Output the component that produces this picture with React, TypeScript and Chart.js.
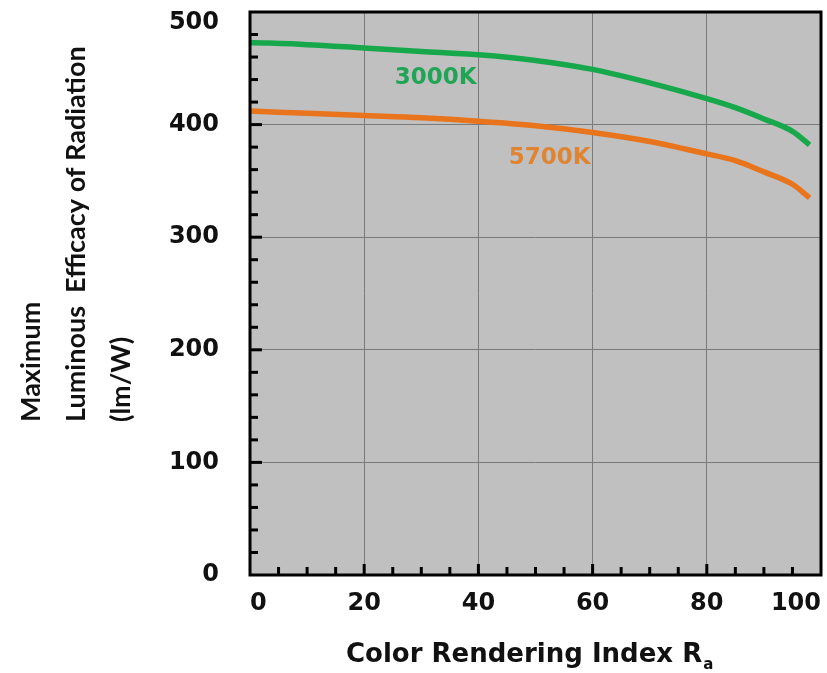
import React, { useEffect, useRef } from 'react';
import { Chart, registerables } from 'chart.js';

Chart.register(...registerables);

// Color Rendering Index values (x)
const criValues = [0, 10, 20, 30, 40, 50, 60, 70, 80, 85, 90, 95, 98];
// Maximum luminous efficacy of radiation (lm/W)
const efficacy3000K = [473, 471, 468, 465, 462, 457, 449, 437, 423, 415, 405, 394, 382];
const efficacy5700K = [412, 410, 408, 406, 403, 399, 393, 385, 374, 368, 358, 347, 335];
const seriesNames = ['3000K', '5700K'];
const labelAnchors = [
  { x: 32.5, y: 441 },
  { x: 52.5, y: 370 },
];
const xTickValues = [0, 20, 40, 60, 80, 100];
const yTickValues = [0, 100, 200, 300, 400, 500];
const yTitleLines = ['Maximum', 'Luminous  Efficacy of Radiation', '(lm/W)'];
const xTitleMain = 'Color Rendering Index R';
const xTitleSub = 'a';

const GREEN = '#17a84c';
const ORANGE = '#e8741c';
const GREEN_TEXT = '#22a456';
const ORANGE_TEXT = '#de8534';
const TICK_FONT = '"DejaVu Sans", sans-serif';

const decorPlugin = {
  id: 'decor',
  beforeDraw(chart: any) {
    const { ctx, chartArea: a } = chart;
    ctx.save();
    ctx.fillStyle = '#c0c0c0';
    ctx.fillRect(a.left, a.top, a.right - a.left, a.bottom - a.top);
    ctx.restore();
  },
  afterDraw(chart: any) {
    const { ctx, chartArea: a, scales } = chart;
    const xs = scales.x;
    const ys = scales.y;
    ctx.save();
    // inner tick marks
    ctx.strokeStyle = '#000';
    ctx.lineWidth = 3;
    ctx.lineCap = 'butt';
    for (let v = 5; v < 100; v += 5) {
      const px = xs.getPixelForValue(v);
      const len = v % 20 === 0 ? 11 : 8;
      ctx.beginPath();
      ctx.moveTo(px, a.bottom);
      ctx.lineTo(px, a.bottom - len);
      ctx.stroke();
    }
    for (let v = 20; v < 500; v += 20) {
      const py = ys.getPixelForValue(v);
      const len = v % 100 === 0 ? 12 : 8;
      ctx.beginPath();
      ctx.moveTo(a.left, py);
      ctx.lineTo(a.left + len, py);
      ctx.stroke();
    }
    // frame
    ctx.lineWidth = 3;
    ctx.strokeRect(a.left, a.top, a.right - a.left, a.bottom - a.top);

    // series labels
    ctx.font = 'bold 23px ' + TICK_FONT;
    ctx.textAlign = 'center';
    ctx.textBaseline = 'middle';
    const colors = [GREEN_TEXT, ORANGE_TEXT];
    seriesNames.forEach((n, i) => {
      ctx.fillStyle = colors[i];
      ctx.fillText(n, xs.getPixelForValue(labelAnchors[i].x), ys.getPixelForValue(labelAnchors[i].y));
    });

    // x title
    ctx.fillStyle = '#111';
    ctx.textAlign = 'left';
    ctx.textBaseline = 'alphabetic';
    ctx.font = 'bold 26px ' + TICK_FONT;
    const tx = a.left + 96;
    const ty = a.bottom + 87;
    ctx.fillText(xTitleMain, tx, ty);
    const w = ctx.measureText(xTitleMain).width;
    ctx.font = 'bold 15px ' + TICK_FONT;
    ctx.fillText(xTitleSub, tx + w + 1, ty + 7);

    // y title
    ctx.font = 'bold 27px Lato, sans-serif';
    yTitleLines.forEach((line, i) => {
      ctx.save();
      ctx.translate(40 + i * 45, a.bottom - 153);
      ctx.rotate(-Math.PI / 2);
      ctx.fillText(line, 0, 0);
      ctx.restore();
    });
    ctx.restore();
  },
};

export default function App() {
  const ref = useRef<HTMLCanvasElement | null>(null);
  useEffect(() => {
    document.body.style.margin = '0';
    const canvas = ref.current;
    if (!canvas) return;
    const chart = new Chart(canvas, {
      type: 'line',
      data: {
        datasets: [
          {
            label: seriesNames[0],
            data: criValues.map((x, i) => ({ x, y: efficacy3000K[i] })),
            borderColor: GREEN,
            borderWidth: 5.5,
            pointRadius: 0,
            cubicInterpolationMode: 'monotone',
            fill: false,
          },
          {
            label: seriesNames[1],
            data: criValues.map((x, i) => ({ x, y: efficacy5700K[i] })),
            borderColor: ORANGE,
            borderWidth: 5.5,
            pointRadius: 0,
            cubicInterpolationMode: 'monotone',
            fill: false,
          },
        ],
      },
      options: {
        responsive: false,
        animation: false,
        layout: { padding: { top: 12, right: 6, left: 0, bottom: 0 } },
        plugins: { legend: { display: false }, tooltip: { enabled: false }, title: { display: false } },
        scales: {
          x: {
            type: 'linear',
            min: 0,
            max: 100,
            afterBuildTicks: (s: any) => {
              s.ticks = xTickValues.map((v) => ({ value: v }));
            },
            afterFit: (s: any) => {
              s.height = 98;
              s.paddingLeft = 0;
              s.paddingRight = 0;
            },
            grid: { color: '#7a7a7a', lineWidth: 1, drawTicks: false },
            border: { display: false },
            ticks: {
              align: 'inner',
              padding: 14,
              color: '#111',
              font: { family: TICK_FONT, size: 24, weight: 'bold' },
            },
          },
          y: {
            type: 'linear',
            min: 0,
            max: 500,
            afterBuildTicks: (s: any) => {
              s.ticks = yTickValues.map((v) => ({ value: v }));
            },
            afterFit: (s: any) => {
              s.width = 250;
              s.paddingTop = 0;
              s.paddingBottom = 0;
            },
            grid: { color: '#7a7a7a', lineWidth: 1, drawTicks: false },
            border: { display: false },
            ticks: {
              padding: 31,
              color: '#111',
              font: { family: TICK_FONT, size: 24, weight: 'bold', lineHeight: 0.9 },
              callback: (v: any) => (v === 500 ? ['', String(v)] : String(v)),
            },
          },
        },
      },
      plugins: [decorPlugin],
    } as any);
    return () => chart.destroy();
  }, []);
  return (
    <canvas ref={ref} width={827} height={673} style={{ display: 'block', width: 827, height: 673 }} />
  );
}
